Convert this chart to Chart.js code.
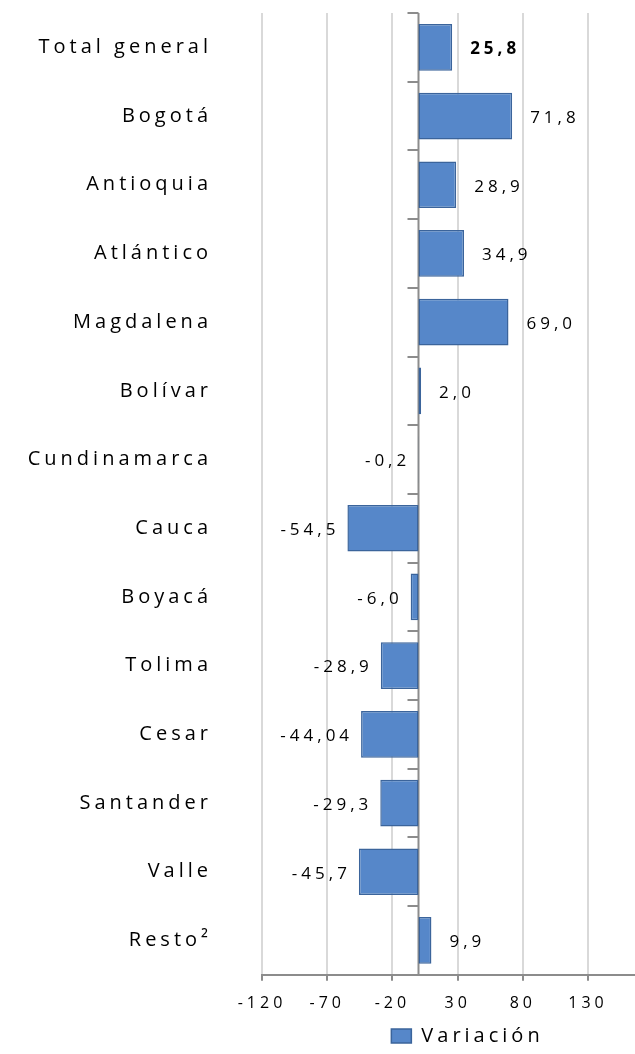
<!DOCTYPE html>
<html>
<head>
<meta charset="utf-8">
<script src="https://cdn.jsdelivr.net/npm/chart.js@4.4.1/dist/chart.umd.min.js"></script>
<style>
  html, body { margin: 0; padding: 0; background: #fff; }
  #wrap { width: 635px; height: 1054px; }
</style>
</head>
<body>
<div id="wrap"><canvas id="chart"></canvas></div>
<script>
const categories = ["Total general", "Bogotá", "Antioquia", "Atlántico", "Magdalena", "Bolívar",
  "Cundinamarca", "Cauca", "Boyacá", "Tolima", "Cesar", "Santander", "Valle", "Resto²"];
const variacion = [25.8, 71.8, 28.9, 34.9, 69.0, 2.0, -0.2, -54.5, -6.0, -28.9, -44.04, -29.3, -45.7, 9.9];
const tickValues = [-120, -70, -20, 30, 80, 130];
const seriesName = "Variación";

function fmt(v){
  let s = String(v);
  if (!s.includes(".")) s = v.toFixed(1);
  return s.replace(".", ",");
}

// letter spacing like the stretched Excel text
const spacing = {
  id: "spacing",
  beforeLayout(chart){ chart.ctx.letterSpacing = "4px"; },
  afterLayout(chart){
    // legend sits a bit right of the plot centre in the original
    chart.legend.left += 19;
    chart.legend.right += 19;
  },
  beforeDraw(chart){ chart.ctx.letterSpacing = "4px"; }
};

// zero line with small category ticks
const zeroLine = {
  id: "zeroLine",
  beforeDatasetsDraw(chart){
    const ctx = chart.ctx, x = chart.scales.x, y = chart.scales.y;
    const x0 = x.getPixelForValue(0);
    ctx.save();
    ctx.strokeStyle = "#8c8c8c";
    ctx.lineWidth = 2;
    ctx.beginPath();
    ctx.moveTo(x0, chart.chartArea.top);
    ctx.lineTo(x0, chart.chartArea.bottom);
    for (let i = 0; i <= categories.length; i++){
      const py = Math.round(y.getPixelForValue(i - 0.5));
      ctx.moveTo(x0 - 11, py);
      ctx.lineTo(x0, py);
    }
    ctx.stroke();
    ctx.restore();
  }
};

const valueLabels = {
  id: "valueLabels",
  afterDatasetsDraw(chart){
    const ctx = chart.ctx;
    const meta = chart.getDatasetMeta(0);
    ctx.save();
    ctx.letterSpacing = "4px";
    ctx.fillStyle = "#000";
    ctx.textBaseline = "middle";
    meta.data.forEach((bar, i) => {
      const v = variacion[i];
      ctx.font = (i === 0 ? "bold " : "") + "17px 'Open Sans'";
      if (v >= 0){
        ctx.textAlign = "left";
        ctx.fillText(fmt(v), bar.x + 18, bar.y + 2);
      } else {
        ctx.textAlign = "right";
        ctx.fillText(fmt(v), bar.x - 8, bar.y + 2);
      }
    });
    ctx.restore();
  }
};

new Chart(document.getElementById("chart"), {
  type: "bar",
  data: {
    labels: categories,
    datasets: [{
      label: seriesName,
      data: variacion,
      backgroundColor: "#5687c9",
      borderColor: "#3b649b",
      borderWidth: 1.5,
      borderSkipped: false,
      barPercentage: 0.68,
      categoryPercentage: 1
    }]
  },
  options: {
    indexAxis: "y",
    responsive: true,
    maintainAspectRatio: false,
    animation: false,
    layout: { padding: { top: 13, right: 0, bottom: -2, left: 0 } },
    scales: {
      x: {
        min: -120,
        max: 166,
        afterBuildTicks(scale){ scale.ticks = tickValues.map(v => ({ value: v })); },
        grid: { color: "#d9d9d9", lineWidth: 2, tickColor: "#8c8c8c", tickLength: 6 },
        border: { color: "#8c8c8c", width: 2 },
        ticks: {
          color: "#000",
          font: { family: "'Open Sans'", size: 16 },
          padding: 13,
          maxRotation: 0
        }
      },
      y: {
        afterFit(scale){ scale.width = 262; },
        grid: { display: false, drawTicks: true, tickLength: 50 },
        border: { display: false },
        ticks: {
          color: "#000",
          font: { family: "'Open Sans'", size: 20 },
          padding: 0
        }
      }
    },
    plugins: {
      legend: {
        position: "bottom",
        fullSize: false,
        labels: {
          color: "#000",
          font: { family: "'Open Sans'", size: 20 },
          boxWidth: 20,
          boxHeight: 14,
          padding: 0
        }
      },
      tooltip: { enabled: false }
    }
  },
  plugins: [spacing, zeroLine, valueLabels]
});
</script>
</body>
</html>
